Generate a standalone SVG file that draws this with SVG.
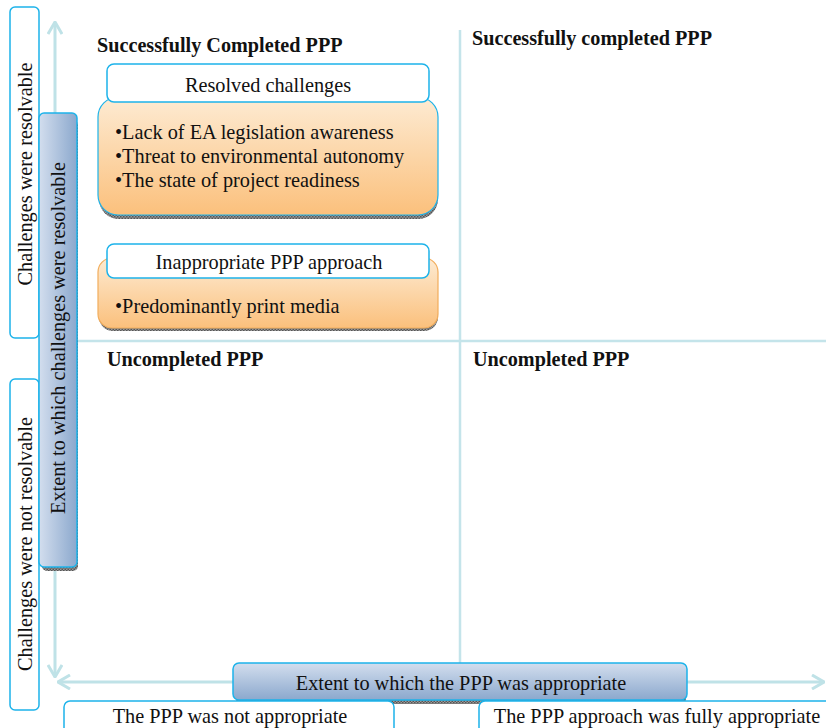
<svg xmlns="http://www.w3.org/2000/svg" width="826" height="728" viewBox="0 0 826 728">
  <defs>
    <linearGradient id="gradOrange" x1="0" y1="0" x2="0" y2="1">
      <stop offset="0" stop-color="#fdebd3"/>
      <stop offset="1" stop-color="#fbc07c"/>
    </linearGradient>
    <linearGradient id="gradBlueV" x1="0" y1="0" x2="1" y2="0">
      <stop offset="0" stop-color="#d3deee"/>
      <stop offset="1" stop-color="#8ba8cd"/>
    </linearGradient>
    <linearGradient id="gradBlueH" x1="0" y1="0" x2="0" y2="1">
      <stop offset="0" stop-color="#d3deee"/>
      <stop offset="1" stop-color="#8ba8cd"/>
    </linearGradient>
    <pattern id="shadowTex" width="3" height="3" patternUnits="userSpaceOnUse">
      <rect width="3" height="3" fill="#9a9a9a"/>
      <rect width="1.5" height="1.5" fill="#555"/>
      <rect x="1.5" y="1.5" width="1.5" height="1.5" fill="#555"/>
    </pattern>
    <marker id="chev" viewBox="0 0 14 16" refX="13" refY="8" markerWidth="14" markerHeight="16" markerUnits="userSpaceOnUse" orient="auto-start-reverse">
      <polyline points="1,1 13,8 1,15" fill="none" stroke="#bfe2e7" stroke-width="3"/>
    </marker>
  </defs>
  <style>
    text { font-family: "Liberation Serif", "Times New Roman", serif; fill: #111; }
    .txt { font-size: 20.3px; }
    .head { font-size: 20.2px; font-weight: bold; }
    .frame { fill: #fff; stroke: #1db3ea; stroke-width: 1.5; }
    .axis { fill: none; stroke: #bfe2e7; stroke-width: 3; }
    .divider { fill: none; stroke: #c4e4ea; stroke-width: 2.5; }
    .shadow { fill: url(#shadowTex); }
  </style>

  <!-- quadrant dividers -->
  <g id="dividers">
    <line class="divider" x1="460" y1="30" x2="460" y2="663"/>
    <line class="divider" x1="77" y1="341" x2="826" y2="341"/>
  </g>

  <!-- axes -->
  <g id="connectors">
    <line class="axis" x1="55" y1="350" x2="55" y2="22" marker-end="url(#chev)"/>
    <line class="axis" x1="55" y1="350" x2="55" y2="677" marker-end="url(#chev)"/>
    <line class="axis" x1="440" y1="682" x2="58" y2="682" marker-end="url(#chev)"/>
    <line class="axis" x1="440" y1="682" x2="824" y2="682" marker-end="url(#chev)"/>
  </g>

  <!-- side labels -->
  <g id="label-resolvable">
    <rect class="frame" x="10" y="7" width="29" height="331" rx="5"/>
    <text class="txt" transform="translate(32,174) rotate(-90)" text-anchor="middle">Challenges were resolvable</text>
  </g>
  <g id="label-not-resolvable">
    <rect class="frame" x="10" y="379" width="29" height="331" rx="5"/>
    <text class="txt" transform="translate(32,544) rotate(-90)" text-anchor="middle">Challenges were not resolvable</text>
  </g>

  <!-- vertical axis title -->
  <g id="axis-y-title">
    <rect class="shadow" x="42" y="120" width="36" height="451" rx="5"/>
    <rect x="39" y="113" width="38" height="454" rx="5" fill="url(#gradBlueV)" stroke="#1db3ea" stroke-width="1.5"/>
    <text class="txt" transform="translate(65,338) rotate(-90)" text-anchor="middle">Extent to which challenges were resolvable</text>
  </g>

  <!-- horizontal axis title -->
  <g id="axis-x-title">
    <rect class="shadow" x="236" y="670" width="450" height="34" rx="5"/>
    <rect x="233" y="663" width="454" height="37" rx="6" fill="url(#gradBlueH)" stroke="#1db3ea" stroke-width="1.5"/>
    <text class="txt" x="461" y="690" text-anchor="middle">Extent to which the PPP was appropriate</text>
  </g>

  <!-- bottom labels -->
  <g id="label-not-appropriate">
    <rect class="frame" x="64" y="701" width="330" height="40" rx="6"/>
    <text class="txt" x="230" y="723" text-anchor="middle">The PPP was not appropriate</text>
  </g>
  <g id="label-fully-appropriate">
    <rect class="frame" x="479" y="701" width="360" height="40" rx="6"/>
    <text class="txt" x="657" y="723" text-anchor="middle">The PPP approach was fully appropriate</text>
  </g>

  <!-- quadrant headings -->
  <g id="heading-q1"><text class="head" x="97" y="52">Successfully Completed PPP</text></g>
  <g id="heading-q2"><text class="head" x="472" y="45">Successfully completed PPP</text></g>
  <g id="heading-q3"><text class="head" x="107" y="366">Uncompleted PPP</text></g>
  <g id="heading-q4"><text class="head" x="473" y="366">Uncompleted PPP</text></g>

  <!-- resolved challenges card -->
  <g id="card-resolved">
    <rect class="shadow" x="99" y="101" width="339" height="118" rx="20"/>
    <rect x="98" y="97" width="340" height="118" rx="20" fill="url(#gradOrange)" stroke="#1db3ea" stroke-width="1.2"/>
    <rect class="frame" x="107" y="64" width="322" height="38" rx="7"/>
    <text class="txt" x="268" y="92" text-anchor="middle">Resolved challenges</text>
    <text class="txt" x="115" y="139">•Lack of EA legislation awareness</text>
    <text class="txt" x="115" y="163">•Threat to environmental autonomy</text>
    <text class="txt" x="115" y="187">•The state of project readiness</text>
  </g>

  <!-- inappropriate approach card -->
  <g id="card-inappropriate">
    <rect class="shadow" x="99" y="262" width="339" height="69" rx="14"/>
    <rect x="98" y="258" width="340" height="70" rx="14" fill="url(#gradOrange)" stroke="#f2ad5c" stroke-width="1.2"/>
    <rect class="frame" x="107" y="244" width="322" height="34" rx="7"/>
    <text class="txt" x="269" y="269" text-anchor="middle">Inappropriate PPP approach</text>
    <text class="txt" x="115" y="313">•Predominantly print media</text>
  </g>
</svg>
